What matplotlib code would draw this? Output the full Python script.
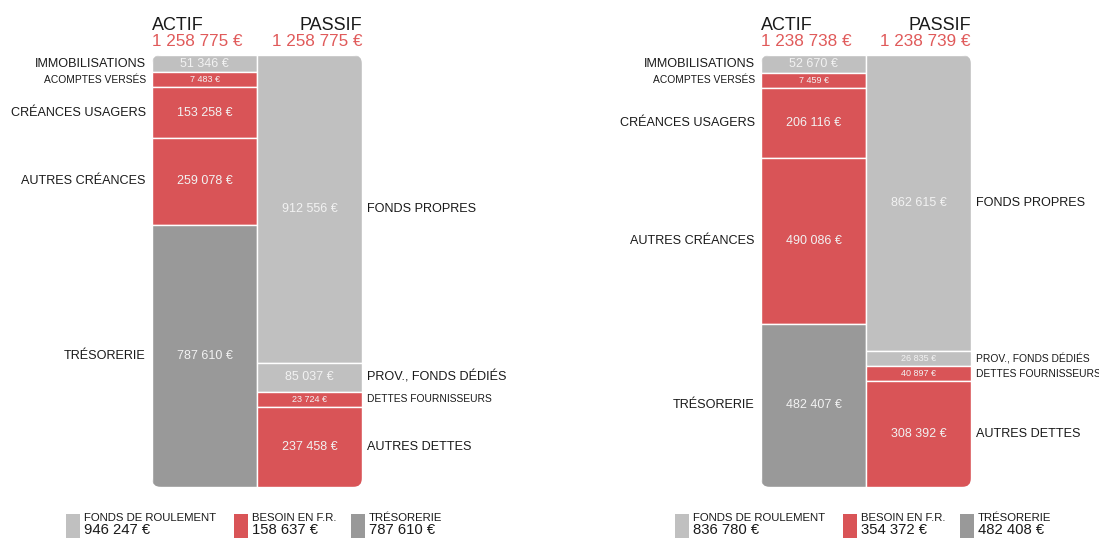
import matplotlib
matplotlib.use("Agg")
import matplotlib.pyplot as plt
from matplotlib.patches import FancyBboxPatch, Rectangle

plt.rcParams['font.family'] = ['Liberation Sans', 'DejaVu Sans']

# ---------------- data ----------------
actif_labels = ["IMMOBILISATIONS", "ACOMPTES VERSÉS", "CRÉANCES USAGERS",
                "AUTRES CRÉANCES", "TRÉSORERIE"]
passif_labels = ["FONDS PROPRES", "PROV., FONDS DÉDIÉS", "DETTES FOURNISSEURS",
                 "AUTRES DETTES"]
actif_kinds = ["fr", "bfr", "bfr", "bfr", "treso"]
passif_kinds = ["fr", "fr", "bfr", "bfr"]

actif_1 = [51346, 7483, 153258, 259078, 787610]
passif_1 = [912556, 85037, 23724, 237458]
total_actif_1 = 1258775
total_passif_1 = 1258775
legend_1 = [946247, 158637, 787610]

actif_2 = [52670, 7459, 206116, 490086, 482407]
passif_2 = [862615, 26835, 40897, 308392]
total_actif_2 = 1238738
total_passif_2 = 1238739
legend_2 = [836780, 354372, 482408]

legend_labels = ["FONDS DE ROULEMENT", "BESOIN EN F.R.", "TRÉSORERIE"]
legend_kinds = ["fr", "bfr", "treso"]

# ---------------- style ----------------
COLORS = {"fr": "#c0c0c0", "bfr": "#d95457", "treso": "#999999"}
RED_TXT = "#e05a5a"
DARK = "#1a1a1a"
W, H = 1099, 556
COL_H = 432       # column height in px
MIN_H = 15        # minimum segment height in px


def fmt(v):
    return f"{v:,}".replace(",", " ") + " €"


def display_heights(vals):
    """Proportional heights with a minimum height for tiny segments."""
    small = set()
    while True:
        rest = [v for i, v in enumerate(vals) if i not in small]
        avail = COL_H - MIN_H * len(small)
        scale = avail / sum(rest)
        new_small = {i for i, v in enumerate(vals) if i not in small and v * scale < MIN_H}
        if not new_small:
            break
        small |= new_small
    return [MIN_H if i in small else v * scale for i, v in enumerate(vals)]


fig = plt.figure(figsize=(W / 100, H / 100), dpi=100)


def fx(x):
    return x / W


def fy(y):
    return 1 - y / H


def panel(left_px, actif, passif, tot_a, tot_p, legend_vals):
    top_px, bot_px = 55, 55 + COL_H
    width_px = 210
    ax = fig.add_axes([fx(left_px), fy(bot_px), width_px / W, COL_H / H])
    ax.set_xlim(0, 2)
    ax.set_ylim(COL_H, 0)
    ax.axis("off")

    r_px = 9
    clip = FancyBboxPatch((0, 0), 1, 1,
                          boxstyle=f"round,pad=0,rounding_size={r_px / width_px}",
                          mutation_aspect=width_px / COL_H,
                          transform=ax.transAxes, facecolor="none", edgecolor="none")
    ax.add_patch(clip)

    def column(vals, kinds, labels, xc, side):
        hs = display_heights(vals)
        bottoms = []
        acc = 0
        for h in hs:
            bottoms.append(acc)
            acc += h
        bars = ax.bar([xc] * len(vals), hs, bottom=bottoms, width=1.0,
                      color=[COLORS[k] for k in kinds], edgecolor="white",
                      linewidth=1.0)
        for b in bars:
            b.set_clip_path(clip)
        for v, h, b0, lab in zip(vals, hs, bottoms, labels):
            small = h < 16
            yc = b0 + h / 2
            ax.text(xc, yc, fmt(v), ha="center", va="center",
                    fontsize=6.5 if small else 9, color="#f2f2f2")
            if side == "left":
                ax.text(-0.06, yc, lab, ha="right", va="center",
                        fontsize=7.4 if small else 9.1, color=DARK, clip_on=False)
            else:
                ax.text(2.05, yc, lab, ha="left", va="center",
                        fontsize=7.4 if small else 9.1, color=DARK, clip_on=False)

    column(actif, actif_kinds, actif_labels, 0.5, "left")
    column(passif, passif_kinds, passif_labels, 1.5, "right")

    # headers
    right_px = left_px + width_px
    fig.text(fx(left_px), fy(25.5), "ACTIF", ha="left", va="center",
             fontsize=13, color=DARK)
    fig.text(fx(right_px), fy(25.5), "PASSIF", ha="right", va="center",
             fontsize=13, color=DARK)
    fig.text(fx(left_px), fy(41.5), fmt(tot_a), ha="left", va="center",
             fontsize=12.3, color=RED_TXT)
    fig.text(fx(right_px), fy(41.5), fmt(tot_p), ha="right", va="center",
             fontsize=12.3, color=RED_TXT)

    # legend
    offsets = [-86, 82, 199]
    for off, lab, kind, val in zip(offsets, legend_labels, legend_kinds, legend_vals):
        x0 = left_px + off
        fig.add_artist(Rectangle((fx(x0), fy(538)), 14 / W, 24 / H,
                                 transform=fig.transFigure,
                                 facecolor=COLORS[kind], edgecolor="none"))
        fig.text(fx(x0 + 18), fy(518), lab, ha="left", va="center",
                 fontsize=8.2, color=DARK)
        fig.text(fx(x0 + 18), fy(530), fmt(val), ha="left", va="center",
                 fontsize=10.7, color=DARK)


panel(152, actif_1, passif_1, total_actif_1, total_passif_1, legend_1)
panel(761, actif_2, passif_2, total_actif_2, total_passif_2, legend_2)

fig.savefig("out.png", dpi=100, facecolor="white")
